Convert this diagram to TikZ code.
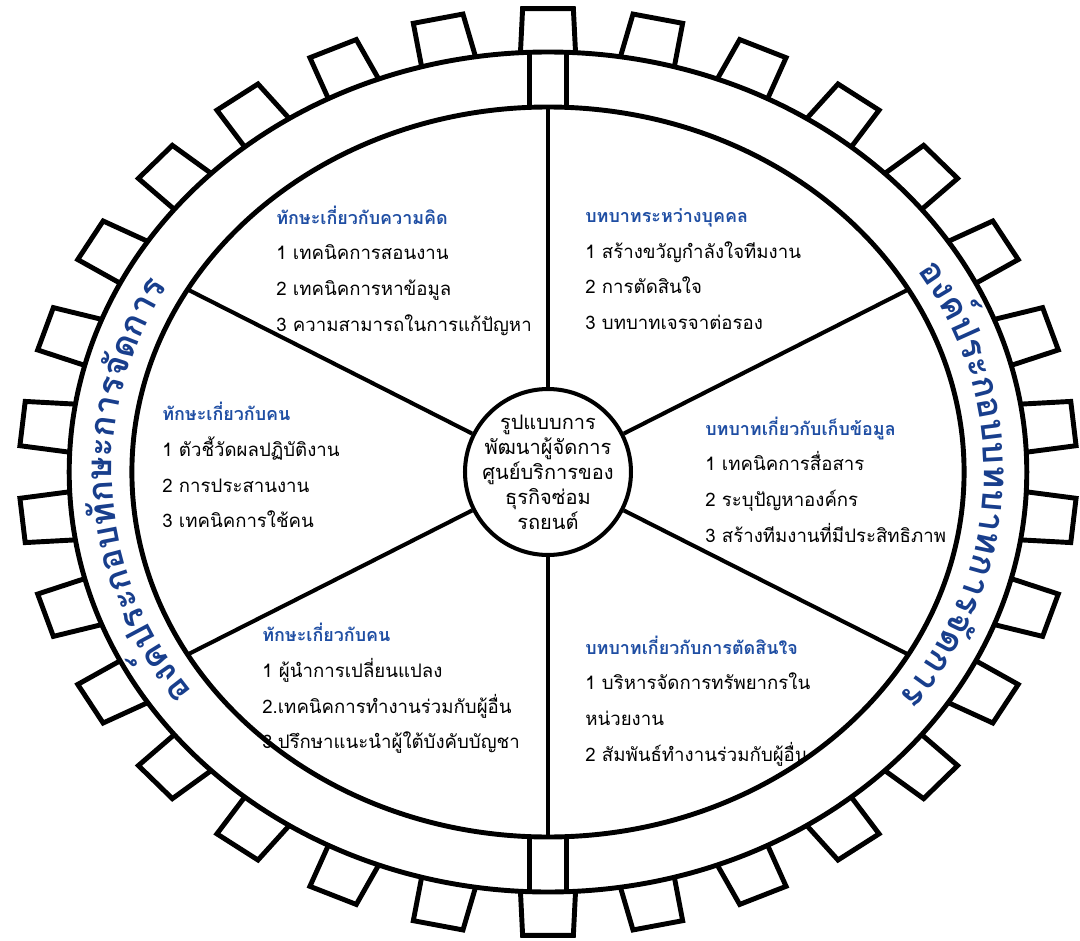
\documentclass[tikz,border=0pt]{standalone}
\usepackage{xcolor}
\usepackage{fontspec}
\usepackage{tikz}
\usetikzlibrary{positioning,calc}
\usetikzlibrary{decorations.text}
\newfontfamily\thaifont[Script=Thai]{Loma}
\definecolor{headblue}{RGB}{31,78,163}
\definecolor{arcblue}{RGB}{24,62,140}
\tikzset{
	ring/.style={line width=2.8pt},
	spoke/.style={line width=2.3pt},
	tooth/.style={line width=2.8pt,line join=miter},
	hub/.style={draw,circle,line width=2.3pt,fill=white,minimum size=3.32cm,inner sep=0pt},
	block/.style={anchor=west,align=left,inner sep=0pt,font=\thaifont\fontsize{10.6}{20.3}\selectfont}
}
\newcommand{\arcfont}{\thaifont\bfseries\fontsize{20}{20}\selectfont}
\newcommand{\hd}[1]{\textcolor{headblue}{\bfseries\fontsize{10.2}{20.3}\selectfont #1}}

\begin{document}
\begin{tikzpicture}[x=0.02cm,y=0.02cm]
	\def\rIn{365}
	\def\rOut{420}
	\def\rTop{464}
	\def\sx{1.14}
\useasboundingbox (-548,-469) rectangle (532,472);

%Engrenage
\begin{scope}[xscale=\sx]
\draw[ring] (0,0) circle (\rOut);
\draw[ring] (0,0) circle (\rIn);
\foreach \a in {90,102,...,438}
	\draw[tooth] ({\a-3.3}:\rOut) -- ({\a-2.75}:\rTop) -- ({\a+2.75}:\rTop) -- ({\a+3.3}:\rOut);
%Barrettes haut et bas
\foreach \s in {1,-1}{
	\draw[ring] (-16,\s*364.6) -- (-16,\s*419.7);
	\draw[ring] (16,\s*364.6) -- (16,\s*419.7);
}
\foreach \a in {30,90,...,330}
	\coordinate (s\a) at (\a:\rIn);
\end{scope}

%Moyeu et rayons
\node[hub] (hub) at (0,0) {};
\foreach \a in {30,90,...,330}
	\draw[spoke] (hub) -- (s\a);
\node[align=center,font=\thaifont\fontsize{11.4}{14.2}\selectfont] (hubtxt) at (hub) {รูปแบบการ\\พัฒนาผู้จัดการ\\ศูนย์บริการของ\\ธุรกิจซ่อม\\รถยนต์};

%Secteurs
\node[block] (thinking) at (-272,201.5) {\hd{ทักษะเกี่ยวกับความคิด}\\1 เทคนิคการสอนงาน\\2 เทคนิคการหาข้อมูล\\3 ความสามารถในการแก้ปัญหา};
\node[block] (interp) at (37,203) {\hd{บทบาทระหว่างบุคคล}\\1 สร้างขวัญกำลังใจทีมงาน\\2 การตัดสินใจ\\3 บทบาทเจรจาต่อรอง};
\node[block] (people) at (-386,7) {\hd{ทักษะเกี่ยวกับคน}\\1 ตัวชี้วัดผลปฏิบัติงาน\\2 การประสานงาน\\3 เทคนิคการใช้คน};
\node[block] (info) at (157,-7.5) {\hd{บทบาทเกี่ยวกับเก็บข้อมูล}\\1 เทคนิคการสื่อสาร\\2 ระบุปัญหาองค์กร\\3 สร้างทีมงานที่มีประสิทธิภาพ};
\node[block] (lead) at (-286,-216.5) {\hd{ทักษะเกี่ยวกับคน}\\1 ผู้นำการเปลี่ยนแปลง\\2.เทคนิคการทำงานร่วมกับผู้อื่น\\3.ปรึกษาแนะนำผู้ใต้บังคับบัญชา};
\node[block] (decide) at (37,-229) {\hd{บทบาทเกี่ยวกับการตัดสินใจ}\\1 บริหารจัดการทรัพยากรใน\\หน่วยงาน\\2 สัมพันธ์ทำงานร่วมกับผู้อื่น};

%Textes sur l'anneau
\path[decorate,decoration={text along path,text align=center,text color=arcblue,
	text={|\arcfont|องค์ประกอบทักษะการจัดการ}}]
	({436*cos(230)},{380*sin(230)}) arc[start angle=230,end angle=136,x radius=436,y radius=380];
\path[decorate,decoration={text along path,text align=center,text color=arcblue,
	text={|\arcfont|องค์ประกอบบทบาทการจัดการ}}]
	({436*cos(42)},{380*sin(42)}) arc[start angle=42,end angle=-46,x radius=436,y radius=380];

\end{tikzpicture}
\end{document}
